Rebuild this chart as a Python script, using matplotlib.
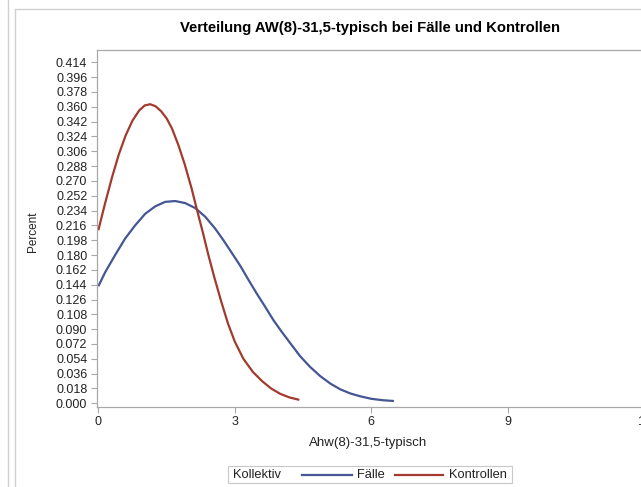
import numpy as np
import matplotlib
matplotlib.use("Agg")
import matplotlib.pyplot as plt
from matplotlib.lines import Line2D
from matplotlib.patches import Rectangle

plt.rcParams["font.family"] = ["Liberation Sans", "DejaVu Sans"]
plt.rcParams["font.size"] = 9

# Density curves
faelle_x = [0.00, 0.15, 0.37, 0.59, 0.81, 1.03, 1.25, 1.47, 1.69, 1.91, 2.13,
            2.35, 2.57, 2.75, 2.93, 3.12, 3.30, 3.48, 3.67, 3.85, 4.03, 4.22,
            4.44, 4.66, 4.88, 5.10, 5.32, 5.54, 5.76, 6.00, 6.25, 6.50]
faelle_y = [0.142, 0.159, 0.180, 0.200, 0.216, 0.230, 0.239, 0.2445, 0.2455,
            0.2430, 0.2370, 0.2265, 0.2120, 0.198, 0.183, 0.167, 0.150, 0.1335,
            0.117, 0.101, 0.087, 0.073, 0.0570, 0.0440, 0.0330, 0.0240, 0.0170,
            0.0120, 0.0085, 0.0055, 0.0038, 0.0028]

kontrollen_x = [0.00, 0.15, 0.30, 0.45, 0.60, 0.75, 0.90, 1.02, 1.14, 1.26,
                1.38, 1.50, 1.62, 1.76, 1.90, 2.05, 2.17, 2.30, 2.42, 2.55,
                2.70, 2.85, 3.00, 3.19, 3.40, 3.60, 3.80, 4.00, 4.20, 4.42]
kontrollen_y = [0.210, 0.243, 0.274, 0.302, 0.325, 0.343, 0.3555, 0.3615, 0.3630,
                0.3605, 0.3545, 0.346, 0.3335, 0.3135, 0.290, 0.261, 0.2346,
                0.207, 0.180, 0.153, 0.124, 0.097, 0.075, 0.054, 0.038, 0.027,
                0.018, 0.0115, 0.0072, 0.0042]

y_ticks = np.round(np.arange(0, 0.415, 0.018), 3)
x_ticks = [0, 3, 6, 9, 12]

blue = "#445694"
red = "#A23A2E"
axis_gray = "#a8a8a8"
text_col = "#222222"

W, H = 641, 487
fig = plt.figure(figsize=(W / 100, H / 100), dpi=100)

# axes box in pixels: left 97, right ~650 (runs off the picture), top 50, bottom 407
ax = fig.add_axes([97 / W, (H - 406.7) / H, (650 - 97) / W, (406.7 - 50) / H])

ax.plot(faelle_x, faelle_y, color=blue, linewidth=1.6,
        solid_capstyle="butt", solid_joinstyle="round")
ax.plot(kontrollen_x, kontrollen_y, color=red, linewidth=1.6,
        solid_capstyle="butt", solid_joinstyle="round")

ax.set_xlim(-0.029, 12.13)
ax.set_ylim(-0.0041, 0.4288)
ax.set_xticks(x_ticks)
ax.set_yticks(y_ticks)
ax.set_yticklabels([f"{v:.3f}" for v in y_ticks])

for side in ["left", "bottom", "top", "right"]:
    ax.spines[side].set_color(axis_gray)
    ax.spines[side].set_linewidth(0.9)
ax.tick_params(axis="both", direction="out", length=4, width=0.8,
               color=axis_gray, labelcolor=text_col, pad=3, labelsize=9)

ax.set_ylabel("Percent", fontsize=8.5, color=text_col)
ax.yaxis.label.set_va("center")
ax.yaxis.set_label_coords((33 - 97) / 553, 0.49)
ax.set_xlabel("Ahw(8)-31,5-typisch", fontsize=9.5, color=text_col)
ax.xaxis.label.set_va("center")
ax.xaxis.set_label_coords((368 - 97) / 553, (406.7 - 443) / 356.7)

fig.text(370 / W, 1 - 28 / H, "Verteilung AW(8)-31,5-typisch bei Fälle und Kontrollen",
         ha="center", va="center", fontsize=10.7, fontweight="bold", color="black")

# surrounding panel borders
frame = "#d0d0d0"
fig.add_artist(Line2D([7.5 / W, 7.5 / W], [0, 1], color=frame, linewidth=1))
fig.add_artist(Line2D([15 / W, 15 / W], [0, 1 - 8.5 / H], color=frame, linewidth=1))
fig.add_artist(Line2D([15 / W, 1], [1 - 8.5 / H, 1 - 8.5 / H], color=frame, linewidth=1))

# legend box with the title on the left
ly = (H - 474.5) / H
fig.add_artist(Rectangle((228 / W, (H - 483) / H), 284 / W, 17 / H,
                         facecolor="white", edgecolor="#c8c8c8", linewidth=0.8))
fig.text(233 / W, ly, "Kollektiv", ha="left", va="center", fontsize=9.3, color=text_col)
fig.add_artist(Line2D([302 / W, 352 / W], [ly, ly], color=blue, linewidth=1.6))
fig.text(357 / W, ly, "Fälle", ha="left", va="center", fontsize=9.3, color=text_col)
fig.add_artist(Line2D([395 / W, 443 / W], [ly, ly], color=red, linewidth=1.6))
fig.text(449 / W, ly, "Kontrollen", ha="left", va="center", fontsize=9.3, color=text_col)

fig.savefig("out.png", dpi=100)
